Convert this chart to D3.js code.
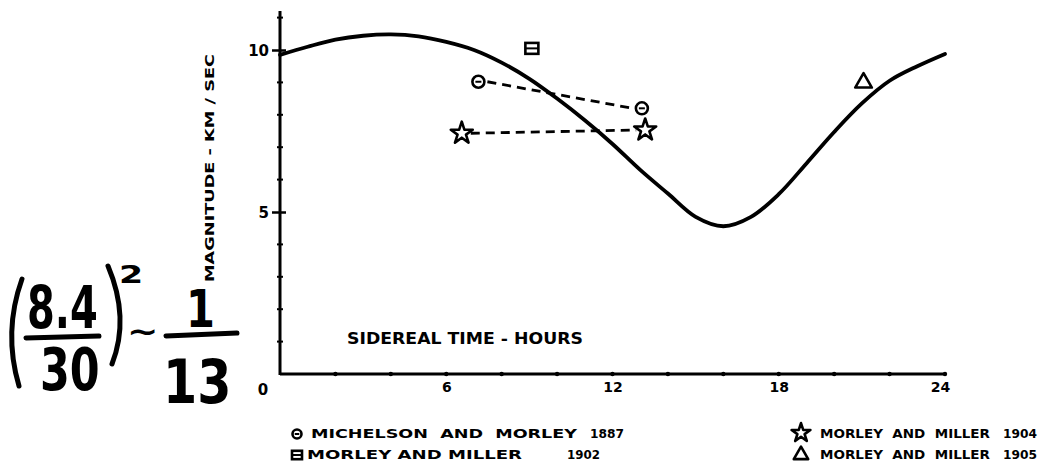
<!DOCTYPE html>
<html>
<head>
<meta charset="utf-8">
<script src="https://cdn.jsdelivr.net/npm/d3@7"></script>
<style>
  body { margin: 0; background: #fff; }
  text { font-family: "DejaVu Sans", sans-serif; font-weight: bold; fill: #000; }
  .hand { font-family: "DejaVu Sans", sans-serif; font-weight: bold; }
</style>
</head>
<body>
<div id="chart"></div>
<script>
// sidereal time (hours) and the magnitude curve
const hours = [0, 1, 2, 3, 4, 5, 6, 7, 8, 9, 10, 11, 12, 13, 14, 15, 16, 17, 18, 19, 20, 21, 22, 23, 24];
const magnitude = [9.85, 10.1, 10.32, 10.44, 10.48, 10.42, 10.25, 10.0, 9.61, 9.11, 8.5, 7.83, 7.1, 6.3, 5.57, 4.85, 4.56, 4.85, 5.55, 6.5, 7.47, 8.35, 9.05, 9.5, 9.88];

// observations
const mm1887Hours = [7.16, 13.06];
const mm1887Values = [9.02, 8.2];
const mm1904Hours = [6.56, 13.18];
const mm1904Values = [7.43, 7.53];
const mm1902Hours = [9.09];
const mm1902Values = [10.05];
const mm1905Hours = [21.06];
const mm1905Values = [9.02];

const xTicks = [6, 12, 18, 24];
const xTickLabels = ["6", "12", "18", "24"];
const yTicks = [5, 10];
const legendNames = ["MICHELSON  AND  MORLEY", "MORLEY AND MILLER", "MORLEY  AND  MILLER", "MORLEY  AND  MILLER"];
const legendYears = ["1887", "1902", "1904", "1905"];

const width = 1038, height = 470;

let svg = d3.select("#chart").append("svg")
    .attr("width", width)
    .attr("height", height);
svg.append("rect").attr("width", width).attr("height", height).attr("fill", "#fff");

let x = d3.scaleLinear().domain([0, 24]).range([280, 945]);
let y = d3.scaleLinear().domain([0, 10]).range([374, 50]);

//axes lines, drawn heavy like the ink original
svg.append("line")
    .attr("x1", x(0)).attr("x2", x(0))
    .attr("y1", y(0) + 1).attr("y2", y(11.2))
    .attr("stroke", "#000").attr("stroke-width", 3);
svg.append("line")
    .attr("x1", x(0)).attr("x2", x(24))
    .attr("y1", y(0)).attr("y2", y(0))
    .attr("stroke", "#000").attr("stroke-width", 3);

// y axis: labelled crossing ticks at 5 and 10
let yAxis = d3.axisLeft(y).tickValues(yTicks).tickSize(8).tickPadding(3);
let gy = svg.append("g").attr("transform", "translate(" + x(0) + ",0)").call(yAxis);
gy.select(".domain").remove();
gy.selectAll(".tick line").attr("x2", 6).attr("x1", -8).attr("stroke-width", 2.5);
gy.selectAll(".tick text").style("font-size", "15px").attr("dy", "0.35em");

// minor ticks every unit
svg.selectAll(".ymin")
    .data(d3.range(1, 12).filter(d => d % 5 != 0))
    .enter().append("line")
    .attr("class", "ymin")
    .attr("x1", x(0) - 3).attr("x2", x(0) + 3)
    .attr("y1", d => y(d)).attr("y2", d => y(d))
    .attr("stroke", "#000").attr("stroke-width", 2);

// x axis labels
let xAxis = d3.axisBottom(x).tickValues(xTicks).tickFormat((d, i) => xTickLabels[i]).tickSize(0).tickPadding(8);
let gx = svg.append("g").attr("transform", "translate(0," + y(0) + ")").call(xAxis);
gx.select(".domain").remove();
gx.selectAll(".tick text").style("font-size", "14px");
gx.selectAll(".tick").filter(d => d == 24).select("text").attr("dx", -5);

svg.append("text").text("0")
    .attr("x", 263).attr("y", 395)
    .attr("text-anchor", "middle")
    .style("font-size", "15px");

// dots along the x axis every 2 hours
svg.selectAll(".xdot")
    .data(d3.range(2, 25, 2))
    .enter().append("circle")
    .attr("class", "xdot")
    .attr("cx", d => x(d)).attr("cy", y(0))
    .attr("r", 2.2).attr("fill", "#000");

// axis titles
svg.append("text").text("SIDEREAL  TIME - HOURS")
    .attr("x", 347).attr("y", 344)
    .attr("textLength", 236).attr("lengthAdjust", "spacingAndGlyphs")
    .style("font-size", "15px");

svg.append("text").text("MAGNITUDE  - KM / SEC")
    .attr("transform", "translate(214,282) rotate(-90)")
    .attr("textLength", 228).attr("lengthAdjust", "spacingAndGlyphs")
    .style("font-size", "13px");

// the curve
let line = d3.line()
    .x((d, i) => x(hours[i]))
    .y(d => y(d))
    .curve(d3.curveCatmullRom);
svg.append("path")
    .datum(magnitude)
    .attr("d", line)
    .attr("fill", "none")
    .attr("stroke", "#000")
    .attr("stroke-width", 3.8)
    .attr("stroke-linecap", "round");

// dashed connectors between paired observations
let dashed = [[mm1887Hours, mm1887Values], [mm1904Hours, mm1904Values]];
dashed.forEach((p) => {
    svg.append("line")
        .attr("x1", x(p[0][0]) + 9).attr("y1", y(p[1][0]))
        .attr("x2", x(p[0][1]) - 9).attr("y2", y(p[1][1]))
        .attr("stroke", "#000").attr("stroke-width", 2.8)
        .attr("stroke-dasharray", "9,6");
});

// marker drawing helpers
function circleMark(g, cx, cy, r) {
    g.append("circle").attr("cx", cx).attr("cy", cy).attr("r", r)
        .attr("fill", "#fff").attr("stroke", "#000").attr("stroke-width", 2.6);
    g.append("line").attr("x1", cx - r * 0.5).attr("x2", cx + r * 0.5)
        .attr("y1", cy).attr("y2", cy).attr("stroke", "#000").attr("stroke-width", 2);
}
function boxMark(g, cx, cy, s) {
    g.append("rect").attr("x", cx - s / 2).attr("y", cy - s * 0.42).attr("width", s).attr("height", s * 0.84)
        .attr("fill", "#fff").attr("stroke", "#000").attr("stroke-width", 2.6);
    g.append("line").attr("x1", cx - s / 2).attr("x2", cx + s / 2)
        .attr("y1", cy).attr("y2", cy).attr("stroke", "#000").attr("stroke-width", 2);
}
function symMark(g, type, cx, cy, size) {
    g.append("path").attr("d", d3.symbol().type(type).size(size)())
        .attr("transform", "translate(" + cx + "," + cy + ")")
        .attr("fill", "#fff").attr("stroke", "#000").attr("stroke-width", 2.6)
        .attr("stroke-linejoin", "round");
}

let marks = svg.append("g");
mm1887Hours.forEach((h, i) => circleMark(marks, x(h), y(mm1887Values[i]), 6));
mm1904Hours.forEach((h, i) => symMark(marks, d3.symbolStar, x(h), y(mm1904Values[i]), 150));
mm1902Hours.forEach((h, i) => boxMark(marks, x(h), y(mm1902Values[i]), 13));
mm1905Hours.forEach((h, i) => symMark(marks, d3.symbolTriangle, x(h), y(mm1905Values[i]) + 1, 120));

// legend
let lg = svg.append("g");
circleMark(lg, 297, 434, 4.5);
boxMark(lg, 297, 455, 10);
symMark(lg, d3.symbolStar, 801, 433, 110);
symMark(lg, d3.symbolTriangle, 801, 455, 90);

let legendPos = [[311, 438, 266, 590, 34], [307, 459, 215, 567, 33], [820, 438, 170, 1003, 34], [820, 459, 170, 1003, 34]];
legendNames.forEach((n, i) => {
    let p = legendPos[i];
    lg.append("text").text(n)
        .attr("x", p[0]).attr("y", p[1])
        .attr("textLength", p[2]).attr("lengthAdjust", "spacingAndGlyphs")
        .style("font-size", "12.5px").attr("xml:space", "preserve");
    lg.append("text").text(legendYears[i])
        .attr("x", p[3]).attr("y", p[1])
        .attr("textLength", p[4]).attr("lengthAdjust", "spacingAndGlyphs")
        .style("font-size", "12.5px");
});

// the handwritten note on the left
let note = svg.append("g").attr("stroke-linecap", "round").attr("fill", "none");
note.append("path").attr("d", "M22,279 Q3,332 19,386").attr("stroke", "#000").attr("stroke-width", 5);
note.append("path").attr("d", "M108,266 Q130,318 112,364").attr("stroke", "#000").attr("stroke-width", 5);
note.append("line").attr("x1", 26).attr("x2", 99).attr("y1", 338).attr("y2", 336).attr("stroke", "#000").attr("stroke-width", 5);
note.append("line").attr("x1", 166).attr("x2", 237).attr("y1", 336).attr("y2", 333).attr("stroke", "#000").attr("stroke-width", 5);

// squeeze horizontally with a transform so the boxes stay tight
function hand(t, xx, yy, size, sx) {
    return svg.append("text").text(t).attr("class", "hand")
        .attr("transform", "translate(" + xx + "," + yy + ") scale(" + sx + ",1)")
        .style("font-size", size + "px");
}
hand("8.4", 27, 328, 58, 0.69);
hand("30", 40, 390, 58, 0.74);
hand("2", 119, 283, 24, 1.45);
hand("~", 127, 342, 30, 1.25);
hand("1", 186, 327, 52, 0.8);
hand("13", 163, 403, 60, 0.82);
</script>
</body>
</html>
